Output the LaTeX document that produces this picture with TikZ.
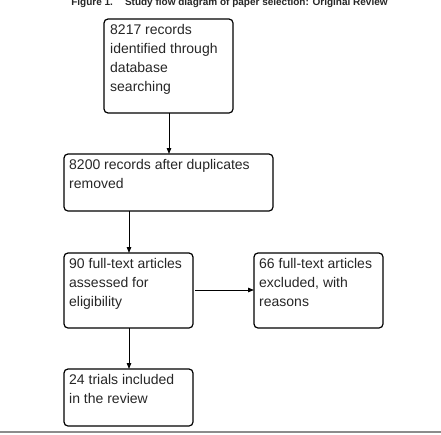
\documentclass[tikz,border=0pt]{standalone}
\usepackage{fontspec}
\setmainfont{Liberation Sans}
\usetikzlibrary{arrows.meta}
\begin{document}
\begin{tikzpicture}[x=1pt,y=-1pt,
  box/.style={draw=black, line width=1.2pt, rounded corners=4pt, inner sep=0pt, outer sep=0pt},
  txt/.style={anchor=north west, inner sep=0pt, align=left, text=black!85,
    font=\fontsize{14pt}{19pt}\selectfont},
  arr/.style={line width=1pt, -{Triangle[length=6pt,width=4.5pt]}},
  title/.style={font=\fontsize{10pt}{12pt}\selectfont\bfseries, text=black!85, inner sep=0pt}
]
\useasboundingbox (0,0) rectangle (441,434);
\node[title, anchor=base] (t) at (229.5,5) {Figure 1.\hspace{1.2em}Study flow diagram of paper selection: Original Review};

\node[box, minimum width=129pt, minimum height=94pt, anchor=north west] (b1) at (104,19) {};
\node[box, minimum width=209pt, minimum height=57pt, anchor=north west] (b2) at (64,154) {};
\node[box, minimum width=129pt, minimum height=75pt, anchor=north west] (b3) at (64,253) {};
\node[box, minimum width=129pt, minimum height=75pt, anchor=north west] (b4) at (254,253) {};
\node[box, minimum width=129pt, minimum height=57pt, anchor=north west] (b5) at (64,369) {};

\node[txt] (t1) at (110,24) {8217 records\\identified through\\database\\searching};
\node[txt] (t2) at (69,159) {8200 records after duplicates\\removed};
\node[txt] (t3) at (69,258) {90 full-text articles\\assessed for\\eligibility};
\node[txt] (t4) at (259,258) {66 full-text articles\\excluded, with\\reasons};
\node[txt] (t5) at (69,374) {24 trials included\\in the review};

\draw[arr] (b1.south -| 169,0) -- (b2.north -| 169,0);
\draw[arr] (b2.south -| 129,0) -- (b3.north -| 129,0);
\draw[arr, shorten <=2pt] (b3.east |- 0,290) -- (b4.west |- 0,290);
\draw[arr] (b3.south -| 129,0) -- (b5.north -| 129,0);

\draw[line width=2pt, black!45] (0,432) -- (441,432);
\end{tikzpicture}
\end{document}
